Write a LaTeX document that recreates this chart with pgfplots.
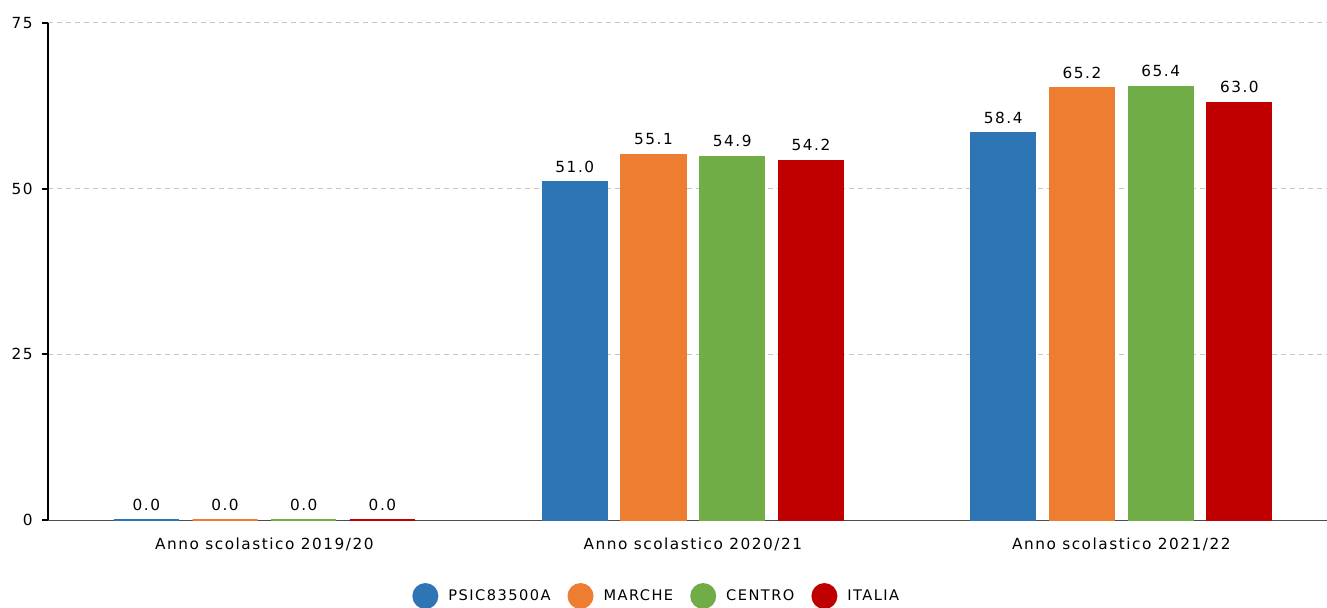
\documentclass[border=0pt]{standalone}
\usepackage{fontspec}
\setmainfont{DejaVu Sans}[LetterSpace=10]
\usepackage{pgfplots}
\pgfplotsset{compat=1.18}
\definecolor{cB}{HTML}{2E75B6}
\definecolor{cO}{HTML}{ED7D31}
\definecolor{cG}{HTML}{70AD47}
\definecolor{cR}{HTML}{C00000}
\pgfplotsset{circleg/.style={legend image code/.code={\fill[##1,draw=none] (13pt,0pt) circle (13pt);}}}
\begin{document}
\fontsize{15.3pt}{18pt}\selectfont
\begin{tikzpicture}
\begin{axis}[name=ax, at={(0,0)}, anchor=south west,
  scale only axis, width=1279pt, height=497pt,
  xmin=-0.505, xmax=2.48, ymin=0, ymax=75,
  ybar=13.7pt, bar width=65pt,
  axis lines*=left,
  x axis line style={draw=black!70, line width=1pt},
  y axis line style={draw=black, line width=2.5pt},
  ytick={0,25,50,75},
  xtick={0,1,2},
  xticklabels={Anno scolastico 2019/20, Anno scolastico 2020/21, Anno scolastico 2021/22},
  xtick style={draw=none},
  ytick style={draw=black, line width=2pt},
  major tick length=6pt, tick align=outside,
  ymajorgrids,
  grid style={dash pattern=on 5pt off 4pt, draw=black!22, line width=1pt},
  /pgf/number format/assume math mode=true,
  tick label style={font=\fontsize{15.3pt}{18pt}\selectfont},
  xticklabel style={yshift=-7pt},
  yticklabel style={xshift=-4pt},
  nodes near coords={\pgfmathprintnumber[fixed,zerofill,precision=1,assume math mode=true]{\pgfplotspointmeta}},
  nodes near coords style={font=\fontsize{15.3pt}{18pt}\selectfont, black, yshift=4pt},
  legend columns=4,
  legend style={at={(0.476,-0.153)}, anchor=center, draw=none, fill=none,
    font=\fontsize{14.6pt}{18pt}\selectfont,
    /tikz/every odd column/.style={column sep=8pt},
    /tikz/every even column/.style={column sep=15pt}},
]
\addplot[circleg, fill=cB, draw=cB, line width=1.2pt] coordinates {(0,0) (1,51.0) (2,58.4)};
\addplot[circleg, fill=cO, draw=cO, line width=1.2pt] coordinates {(0,0) (1,55.1) (2,65.2)};
\addplot[circleg, fill=cG, draw=cG, line width=1.2pt] coordinates {(0,0) (1,54.9) (2,65.4)};
\addplot[circleg, fill=cR, draw=cR, line width=1.2pt] coordinates {(0,0) (1,54.2) (2,63.0)};
\legend{PSIC83500A, MARCHE, CENTRO, ITALIA}
\end{axis}
\pgfresetboundingbox
\useasboundingbox ([shift={(-48pt,-87pt)}]ax.south west) rectangle ([shift={(0pt,23pt)}]ax.north east);
\end{tikzpicture}
\end{document}
